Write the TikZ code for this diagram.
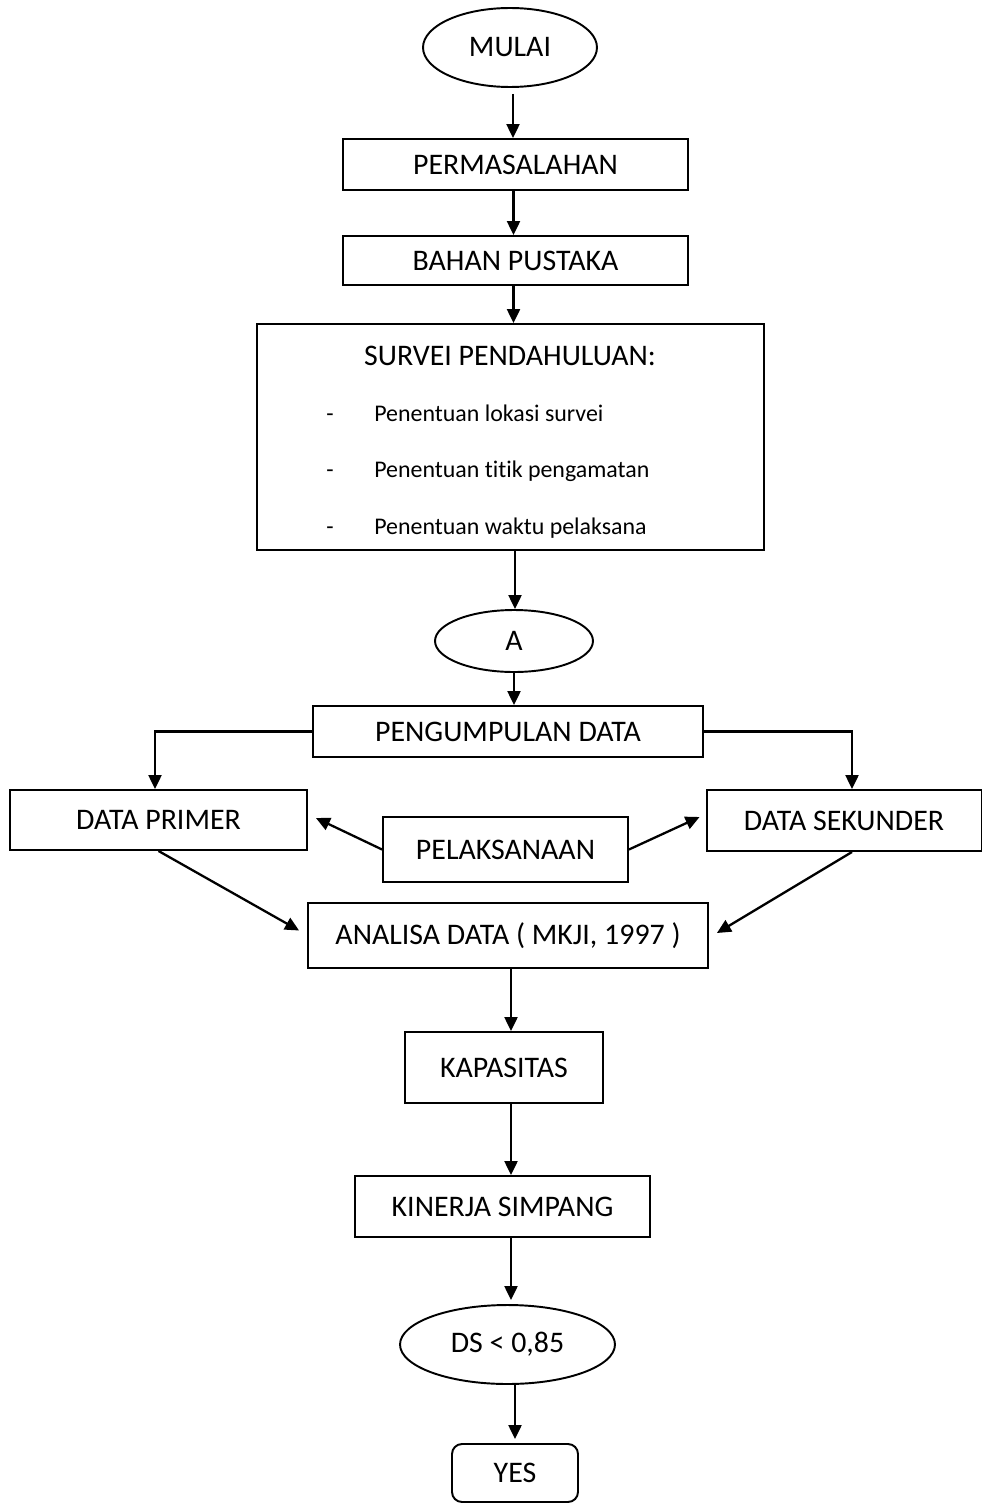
\documentclass[tikz,border=0pt]{standalone}
\usepackage{fontspec}
\setmainfont{Carlito}[Ligatures=NoCommon]
\usepackage{tikz}
\usetikzlibrary{arrows.meta}
\usetikzlibrary{shapes.geometric}

\tikzset{
    box/.style={draw, line width=1.1pt, rectangle, inner sep=0pt},
    oval/.style={draw, line width=1.1pt, ellipse, inner sep=0pt},
    flow/.style={line width=1.3pt, -{Triangle[length=0.28cm, width=0.26cm]}},
    label text/.style={font=\fontsize{17}{20}\selectfont},
    item text/.style={font=\fontsize{13.6}{16}\selectfont, anchor=west, inner sep=0pt, text height=1.6ex, text depth=0.5ex}
}

\begin{document}
\begin{tikzpicture}[x=0.02cm, y=-0.02cm, label text]
            \useasboundingbox (0,0) rectangle (983,1504);
            % top part
            \node[oval, minimum width=3.48cm, minimum height=1.58cm] (mulai) at (510,47.5) {MULAI};
            \node[box, minimum width=6.9cm, minimum height=1.02cm] (masalah) at (515.5,164.5) {PERMASALAHAN};
            \node[box, minimum width=6.9cm, minimum height=0.98cm] (pustaka) at (515.5,260.5) {BAHAN PUSTAKA};
            \node[box, minimum width=10.14cm, minimum height=4.52cm] (survei) at (510.5,437) {};
            \node (surveititle) at (510,356) {SURVEI PENDAHULUAN:};
            \node[item text] (dash1) at (326,417) {-};
            \node[item text] (item1) at (374,417) {Penentuan lokasi survei};
            \node[item text] (dash2) at (326,473) {-};
            \node[item text] (item2) at (374,473) {Penentuan titik pengamatan};
            \node[item text] (dash3) at (326,530) {-};
            \node[item text] (item3) at (374,530) {Penentuan waktu pelaksana};
            \node[oval, minimum width=3.16cm, minimum height=1.24cm] (a) at (514,641) {A};
            % data part
            \node[box, minimum width=7.8cm, minimum height=1.02cm] (kumpul) at (508,731.5) {PENGUMPULAN DATA};
            \node[box, minimum width=5.94cm, minimum height=1.2cm] (primer) at (158.5,820) {DATA PRIMER};
            \node[box, minimum width=5.5cm, minimum height=1.22cm] (sekunder) at (844,820.5) {DATA SEKUNDER};
            \node[box, minimum width=4.9cm, minimum height=1.3cm] (laksana) at (505.5,849.5) {PELAKSANAAN};
            \node[box, minimum width=8cm, minimum height=1.3cm] (analisa) at (508,935.5) {ANALISA DATA ( MKJI, 1997 )};
            % result part
            \node[box, minimum width=3.96cm, minimum height=1.42cm] (kapasitas) at (504,1067.5) {KAPASITAS};
            \node[box, minimum width=5.9cm, minimum height=1.22cm] (kinerja) at (502.5,1206.5) {KINERJA SIMPANG};
            \node[oval, minimum width=4.3cm, minimum height=1.58cm] (ds) at (507.5,1344.5) {DS < 0,85};
            \node[box, rounded corners=0.2cm, minimum width=2.52cm, minimum height=1.16cm] (yes) at (515,1473) {YES};

            \draw[flow] ([xshift=0.06cm, yshift=-0.12cm]mulai.south) -- ([xshift=0.06cm]mulai.south |- masalah.north);
            \draw[flow] ([xshift=-0.04cm]masalah.south) -- ([xshift=-0.04cm]masalah.south |- pustaka.north);
            \draw[flow] ([xshift=-0.04cm]pustaka.south) -- ([xshift=-0.04cm]pustaka.south |- survei.north);
            \draw[flow] ([xshift=0.09cm]survei.south) -- ([xshift=0.09cm]survei.south |- a.north);
            \draw[flow] (a.south) -- (a.south |- kumpul.north);
            \draw[flow] (kumpul.west) -| ([xshift=-0.07cm]primer.north);
            \draw[flow] (kumpul.east) -| ([xshift=0.16cm]sekunder.north);
            \draw[flow] (laksana.west) -- ([xshift=0.16cm, yshift=0.04cm]primer.east);
            \draw[flow] (laksana.east) -- ([xshift=-0.12cm, yshift=0.07cm]sekunder.west);
            \draw[flow] (primer.south) -- ([xshift=-0.16cm, yshift=0.1cm]analisa.west);
            \draw[flow] ([xshift=0.16cm]sekunder.south) -- ([xshift=0.16cm, yshift=0.05cm]analisa.east);
            \draw[flow] ([xshift=0.06cm]analisa.south) -- ([xshift=0.06cm]analisa.south |- kapasitas.north);
            \draw[flow] ([xshift=0.14cm]kapasitas.south) -- ([xshift=0.14cm]kapasitas.south |- kinerja.north);
            \draw[flow] ([xshift=0.17cm]kinerja.south) -- ([xshift=0.17cm, yshift=0.08cm]kinerja.south |- ds.north);
            \draw[flow] ([xshift=0.15cm]ds.south) -- ([xshift=0.15cm, yshift=0.08cm]ds.south |- yes.north);
        \end{tikzpicture}
\end{document}
